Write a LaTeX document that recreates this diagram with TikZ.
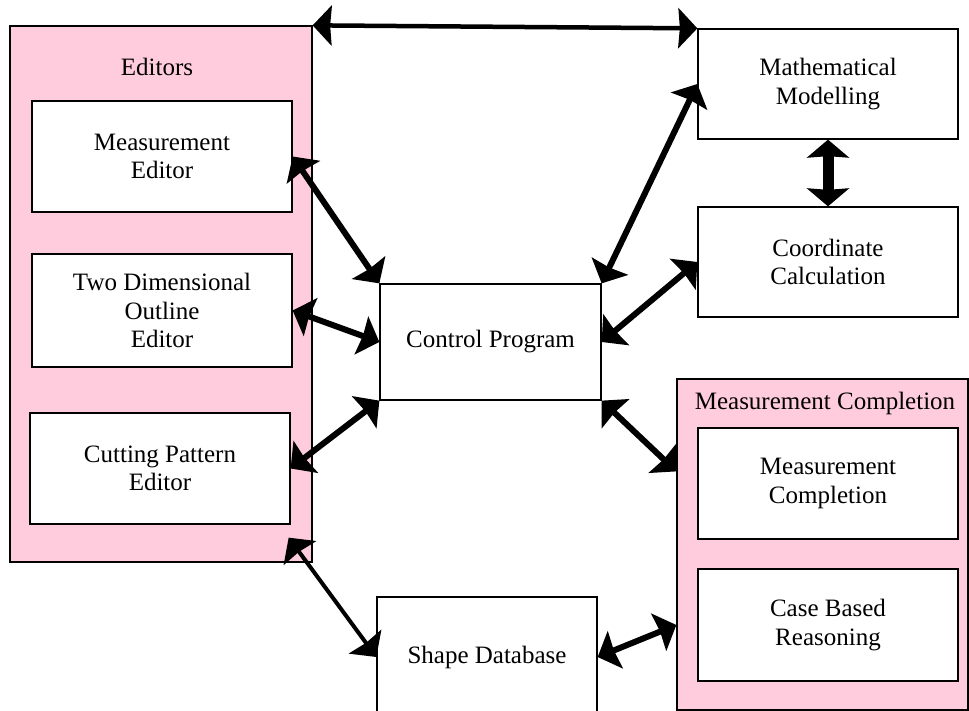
\documentclass[tikz,border=0pt]{standalone}
\usepackage{fontspec}
\setmainfont{Liberation Serif}
\usepackage{tikz}
\usetikzlibrary{arrows.meta, calc}

\definecolor{rosebloc}{RGB}{255,204,222}

\begin{document}
\begin{tikzpicture}[x=1pt, y=-1pt,
    every node/.style={font=\fontsize{25}{28.5}\selectfont},
    box/.style={draw, line width=1.3pt, fill=white, align=center, inner sep=0pt,
                minimum width=260pt, minimum height=111pt},
    group/.style={draw, line width=1.3pt, fill=rosebloc, inner sep=0pt},
    link/.style={{Stealth[length=19pt, width=40pt, inset=1.5pt]}-{Stealth[length=19pt, width=40pt, inset=1.5pt]}, line width=6pt}]

\useasboundingbox (0,0) rectangle (969,711);

% Groupes
\node[group, minimum width=302pt, minimum height=536pt] (editors) at (161,294) {};
\node (editlbl) at (157,67) {Editors};
\node[group, minimum width=291pt, minimum height=331pt] (mcout) at (822.5,544.5) {};
\node (mclbl) at (825,403) {Measurement Completion};

% Editeurs
\node[box] (medit) at (162,156.5) {Measurement\\Editor};
\node[box, minimum height=113pt] (tdo) at (162,310.5) {Two Dimensional\\Outline\\Editor};
\node[box] (cpe) at (160,468.5) {Cutting Pattern\\Editor};

% Programme central
\node[box, minimum width=221pt, minimum height=116pt] (cp) at (490.5,342) {Control Program};
\node[box, minimum width=220pt, minimum height=120pt] (sdb) at (487,657) {Shape Database};

% Modules de droite
\node[box, minimum height=110pt] (mm) at (828,84) {Mathematical\\Modelling};
\node[box, minimum height=110pt] (cc) at (828,262) {Coordinate\\Calculation};
\node[box] (mcin) at (828,483.5) {Measurement\\Completion};
\node[box, minimum height=112pt] (cbr) at (828,625) {Case Based\\Reasoning};

% Liaisons
\draw[link, line width=4.5pt] (editors.north east) -- (mm.north west);
\draw[link] (medit.east) -- (cp.north west);
\draw[link] (tdo.east) -- (cp.west);
\draw[link] (cpe.east) -- (cp.south west);
\draw[link, line width=4pt] ([shift={(-24,-25)}]editors.south east) -- (sdb.west);
\draw[link] (cp.north east) -- (mm.west);
\draw[link] (cp.east) -- (cc.west);
\draw[link] (cp.south east) -- ($(mcout.north west)!0.28!(mcout.south west)$);
\draw[link] (sdb.east) -- (mcout.west |- cbr.west);
\draw[{Stealth[length=18pt, width=42pt, inset=1.5pt]}-{Stealth[length=18pt, width=42pt, inset=1.5pt]}, line width=11pt]
    (mm.south) -- (cc.north);

\end{tikzpicture}
\end{document}
